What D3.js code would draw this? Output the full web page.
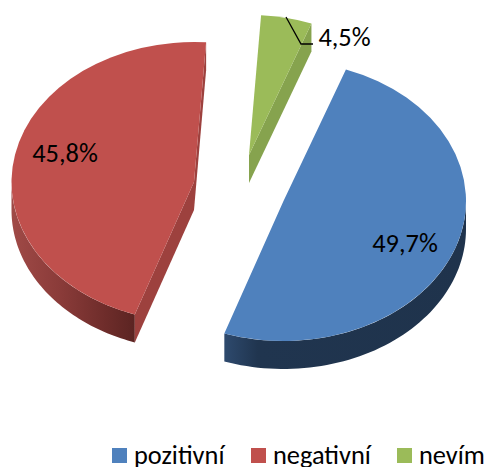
<!DOCTYPE html>
<html><head><meta charset="utf-8">
<script src="https://cdn.jsdelivr.net/npm/d3@7/dist/d3.min.js"></script>
<style>html,body{margin:0;padding:0;background:#fff;overflow:hidden}svg{display:block}</style>
</head><body><svg id="c" width="486" height="467"></svg>
<script>
const categories = ["pozitivní", "negativní", "nevím"];
const values = [49.7, 45.8, 4.5];
const valueLabels = ["49,7%", "45,8%", "4,5%"];
const colors = ["#4f81bd", "#c0504d", "#9bbb59"];
const cutColors = ["#2a4466", "#9d413e", "#86a34e"];

// layout
const W = 486, H = 467, A = 182.5, B = 140, DEPTH = 28;
const centers = [[283.5, 201], [194, 182], [249, 155]];
const labelPos = [[405, 243], [65, 153], [344.5, 37]];
const legendX = [112, 251, 397];
const START = 20 * Math.PI / 180;
const FONT = "Carlito, Calibri, Lato, sans-serif";

const svg = d3.select("#c");
const defs = svg.append("defs");
function grad(id, x1, x2, stops) {
  const g = defs.append("linearGradient").attr("id", id).attr("gradientUnits", "userSpaceOnUse")
    .attr("x1", x1).attr("x2", x2).attr("y1", 0).attr("y2", 0);
  stops.forEach(s => g.append("stop").attr("offset", s[0]).attr("stop-color", s[1]));
}
grad("w0", 224, 466, [[0, "#2e4a6e"], [0.14, "#20354f"], [1, "#1f334c"]]);
grad("w1", 11, 135, [[0, "#a04a47"], [0.4, "#8a3b39"], [0.75, "#6f2d2b"], [1, "#5b2422"]]);
grad("w2", 249, 311, [[0, "#86a34e"], [1, "#86a34e"]]);

const arcs = d3.pie().sort(null).value(d => d)
  .startAngle(START).endAngle(START + 2 * Math.PI)(values);
const arcGen = d3.arc().innerRadius(0).outerRadius(B);
const xs = d3.scaleLinear().domain([-1, 1]).range([-A, A]);
const ys = d3.scaleLinear().domain([-1, 1]).range([-B, B]);
const pt = (c, t, dz) => [c[0] + xs(Math.sin(t)), c[1] - ys(Math.cos(t)) + dz];
const line = d3.line();

arcs.forEach((a, i) => {
  const c = centers[i];
  const g = svg.append("g");
  const lo = Math.PI / 2, hi = 3 * Math.PI / 2;
  const s = Math.max(a.startAngle, lo), e = Math.min(a.endAngle, hi);
  if (e > s) {
    const ts = d3.range(0, 61).map(k => s + (e - s) * k / 60);
    const pts = ts.map(t => pt(c, t, 0)).concat(ts.slice().reverse().map(t => pt(c, t, DEPTH)));
    g.append("path").attr("d", line(pts) + "Z").attr("fill", `url(#w${i})`);
  }
  [[a.startAngle, a.startAngle - Math.PI / 2], [a.endAngle, a.endAngle + Math.PI / 2]].forEach(([t, n]) => {
    if (Math.cos(n) < 0) {
      const p = pt(c, t, 0), q = pt(c, t, DEPTH);
      g.append("path").attr("d", line([c, p, q, [c[0], c[1] + DEPTH]]) + "Z").attr("fill", cutColors[i]);
    }
  });
  g.append("path").attr("d", arcGen(a))
    .attr("transform", `translate(${c[0]},${c[1]}) scale(${A / B},1)`)
    .attr("fill", colors[i]);
});

svg.append("path").attr("d", line([[286, 17], [301, 44], [313, 44]]))
  .attr("fill", "none").attr("stroke", "#000").attr("stroke-width", 1.3);

valueLabels.forEach((t, i) => {
  svg.append("text").attr("x", labelPos[i][0]).attr("y", labelPos[i][1])
    .attr("text-anchor", "middle").attr("dominant-baseline", "central")
    .attr("font-family", FONT).attr("font-size", 26.4).attr("fill", "#000").text(t);
});

categories.forEach((t, i) => {
  svg.append("rect").attr("x", legendX[i]).attr("y", 448).attr("width", 15).attr("height", 15).attr("fill", colors[i]);
  svg.append("text").attr("x", legendX[i] + 22).attr("y", 464)
    .attr("font-family", FONT).attr("font-size", 26.4).attr("fill", "#000").text(t);
});
</script></body></html>
